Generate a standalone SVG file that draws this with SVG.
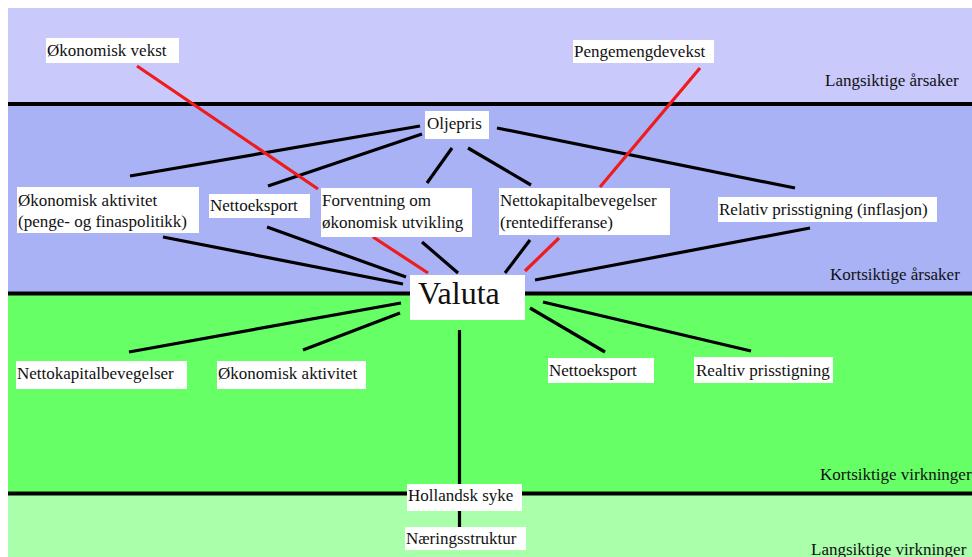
<svg xmlns="http://www.w3.org/2000/svg" width="972" height="557" viewBox="0 0 972 557">
<style>
.box{fill:#ffffff}
.t{font-family:'Liberation Serif','DejaVu Serif',serif;font-size:17px;fill:#111111}
.big{font-family:'Liberation Serif','DejaVu Serif',serif;font-size:32px;fill:#111111}
.c{stroke:#000000;stroke-width:3.2;fill:none}
.r{stroke:#ee1c1c;stroke-width:3.2;fill:none}
.sep{stroke:#000000;stroke-width:4}
</style>
<rect x="0" y="0" width="972" height="557" fill="#ffffff"/>
<g id="bands">
<rect x="8" y="8" width="964" height="96" fill="#c9c9fb"/>
<rect x="8" y="104" width="964" height="190" fill="#aab2f6"/>
<rect x="8" y="294" width="964" height="200" fill="#66ff66"/>
<rect x="8" y="494" width="964" height="63" fill="#aaffaa"/>
<line class="sep" x1="8" y1="104" x2="972" y2="104"/>
<line class="sep" x1="8" y1="293.5" x2="972" y2="293.5"/>
<line class="sep" x1="8" y1="493.5" x2="972" y2="493.5"/>
<text class="t" x="825" y="86">Langsiktige årsaker</text>
<text class="t" x="830" y="280">Kortsiktige årsaker</text>
<text class="t" x="820" y="480">Kortsiktige virkninger</text>
<text class="t" x="811" y="555">Langsiktige virkninger</text>
</g>
<g id="connectors">
<line class="c" x1="420" y1="126" x2="130" y2="176"/>
<line class="c" x1="422" y1="134" x2="268" y2="186"/>
<line class="c" x1="452" y1="148" x2="427" y2="183"/>
<line class="c" x1="468" y1="148" x2="531" y2="185"/>
<line class="c" x1="497" y1="128" x2="795" y2="188"/>
<line class="c" x1="163" y1="237" x2="403" y2="284"/>
<line class="c" x1="267" y1="227" x2="406" y2="277"/>
<line class="c" x1="422" y1="242" x2="458" y2="273"/>
<line class="c" x1="530" y1="240" x2="505" y2="273"/>
<line class="c" x1="810" y1="228" x2="535" y2="280"/>
<line class="r" x1="137" y1="66" x2="318" y2="189"/>
<line class="r" x1="373" y1="237" x2="428" y2="273"/>
<line class="r" x1="700" y1="68" x2="600" y2="187"/>
<line class="r" x1="559" y1="238" x2="525" y2="271"/>
<line class="c" x1="401" y1="303" x2="129" y2="352"/>
<line class="c" x1="400" y1="313" x2="303" y2="350"/>
<line class="c" x1="530" y1="308" x2="605" y2="352"/>
<line class="c" x1="543" y1="302" x2="751" y2="351"/>
<line class="c" x1="459.5" y1="330" x2="459.5" y2="484"/>
<line class="c" x1="459.5" y1="511" x2="459.5" y2="527"/>
</g>
<g id="okonomisk-vekst"><rect class="box" x="46" y="38" width="133" height="25"/><text class="t" x="47" y="56">Økonomisk vekst</text></g>
<g id="pengemengdevekst"><rect class="box" x="573" y="40" width="141" height="23"/><text class="t" x="574" y="57">Pengemengdevekst</text></g>
<g id="oljepris"><rect class="box" x="425" y="111" width="64" height="28"/><text class="t" x="427" y="129">Oljepris</text></g>
<g id="okonomisk-aktivitet-1"><rect class="box" x="17" y="187" width="182" height="46"/><text class="t" x="18" y="206">Økonomisk aktivitet</text><text class="t" x="18" y="227">(penge- og finaspolitikk)</text></g>
<g id="nettoeksport-1"><rect class="box" x="209" y="194" width="101" height="24"/><text class="t" x="210" y="211">Nettoeksport</text></g>
<g id="forventning"><rect class="box" x="321" y="188" width="151" height="49"/><text class="t" x="322" y="206">Forventning om</text><text class="t" x="322" y="228">økonomisk utvikling</text></g>
<g id="nettokapital-1"><rect class="box" x="499" y="188" width="171" height="47"/><text class="t" x="500" y="206">Nettokapitalbevegelser</text><text class="t" x="500" y="228">(rentedifferanse)</text></g>
<g id="relativ-prisstigning"><rect class="box" x="718" y="197" width="219" height="25"/><text class="t" x="719" y="215">Relativ prisstigning (inflasjon)</text></g>
<g id="valuta"><rect class="box" x="410" y="275" width="115" height="45"/><text class="big" x="418" y="304">Valuta</text></g>
<g id="nettokapital-2"><rect class="box" x="16" y="361" width="171" height="28"/><text class="t" x="17" y="379">Nettokapitalbevegelser</text></g>
<g id="okonomisk-aktivitet-2"><rect class="box" x="217" y="361" width="149" height="28"/><text class="t" x="218" y="379">Økonomisk aktivitet</text></g>
<g id="nettoeksport-2"><rect class="box" x="548" y="358" width="106" height="25"/><text class="t" x="549" y="376">Nettoeksport</text></g>
<g id="realtiv-prisstigning"><rect class="box" x="694" y="357" width="139" height="26"/><text class="t" x="696" y="376">Realtiv prisstigning</text></g>
<g id="hollandsk-syke"><rect class="box" x="407" y="484" width="115" height="27"/><text class="t" x="408" y="501">Hollandsk syke</text></g>
<g id="naeringsstruktur"><rect class="box" x="405" y="527" width="121" height="23"/><text class="t" x="406" y="544">Næringsstruktur</text></g>
</svg>
